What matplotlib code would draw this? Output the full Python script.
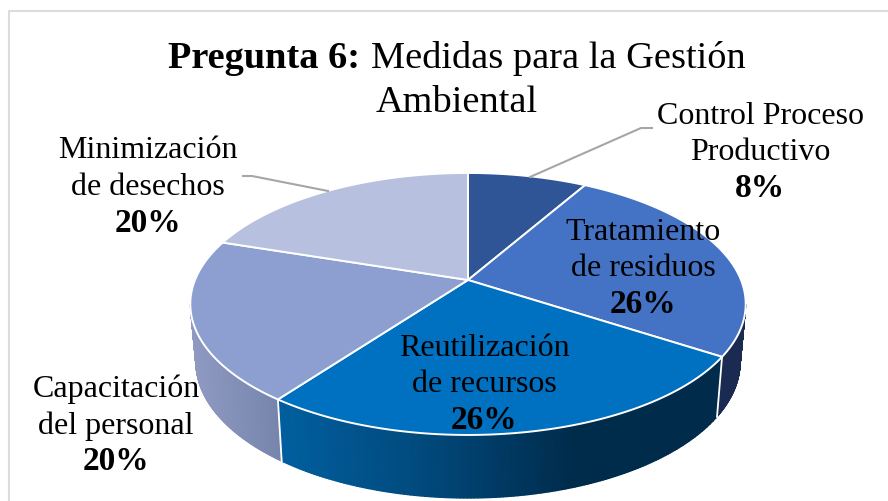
import matplotlib.pyplot as plt
from matplotlib.colors import LinearSegmentedColormap
import numpy as np

plt.rcParams['font.family'] = ['Liberation Serif', 'DejaVu Serif']

categories = ["Control Proceso\nProductivo", "Tratamiento\nde residuos", "Reutilización\nde recursos",
              "Capacitación\ndel personal", "Minimización\nde desechos"]
# first slice reads a bit above its rounded 8% label
values = [8.3, 26, 26, 20, 20]
top_colors = ["#2f5597", "#4472c4", "#0070c0", "#8d9ed0", "#b7c1df"]
side_colors = [["#2f5597", "#2f5597"],
               ["#1b2a50", "#1b2a50"],
               ["#015f9f", "#01497c", "#002c4c", "#002b4a"],
               ["#8f9ac2", "#7785ad"],
               ["#b7c1df", "#b7c1df"]]

# pie geometry in pixels of the picture
hub_x, hub_y = 468, 280
rx, ry, persp = 273, 126.6, 0.183


def project(theta):
    w = 1 + persp * np.cos(theta)
    return hub_x + rx * np.sin(theta) / w, hub_y - ry * np.cos(theta) / w


def lower(x, y):
    return hub_x + (x - hub_x) * 0.98, hub_y + (y - hub_y) * 1.04 + 57


fig = plt.figure(figsize=(8.88, 5.01), dpi=100)
ax = fig.add_axes([0, 0, 1, 1])
ax.set_xlim(0, 888)
ax.set_ylim(501, 0)
ax.axis('off')

# chart frame, only the left and top edges are in the crop
ax.plot([9, 9, 888], [501, 11, 11], color="#dcdcdc", lw=1.5)

edges = np.cumsum([0] + values) / sum(values) * 2 * np.pi
vis_start, vis_end = np.radians(100.5), np.radians(259.5)

# side wall first, so the top sits over it
for i in range(len(values)):
    a, b = max(edges[i], vis_start), min(edges[i + 1], vis_end)
    if a >= b:
        continue
    th = np.linspace(a, b, 150)
    xs, ys = project(th)
    xl, yl = lower(xs, ys)
    cmap = LinearSegmentedColormap.from_list(f"side{i}", side_colors[i])
    t = (xs - xs.min()) / (xs.max() - xs.min())
    ax.pcolormesh(np.vstack([xs, xl]), np.vstack([ys, yl]), np.vstack([t, t]),
                  cmap=cmap, vmin=0, vmax=1, shading='gouraud', zorder=2)
    # white seam at the slice start
    if edges[i] >= vis_start:
        ax.plot([xs[0], xl[0]], [ys[0], yl[0]], color="white", lw=1.3, zorder=3)

# top face
for i in range(len(values)):
    th = np.linspace(edges[i], edges[i + 1], 200)
    xs, ys = project(th)
    ax.fill(np.r_[hub_x, xs], np.r_[hub_y, ys], facecolor=top_colors[i], edgecolor="white",
            lw=1.4, joinstyle='round', zorder=4)

# leader lines
ax.plot([530, 641, 652], [177, 128, 128], color="#a6a6a6", lw=1.5, zorder=5)
ax.plot([328, 252, 243], [191, 176, 176], color="#a6a6a6", lw=1.5, zorder=5)

# title
title_size = 27.6
ax.text(360, 68, "Pregunta 6:", ha='right', va='baseline', fontsize=title_size, fontweight='bold', zorder=6)
ax.text(371, 68, "Medidas para la Gestión", ha='left', va='baseline', fontsize=title_size, zorder=6)
ax.text(457, 112, "Ambiental", ha='center', va='baseline', fontsize=title_size, zorder=6)

# labels: center x and the baseline of the first line
label_pos = [(760, 123.5), (643, 239.5), (484, 355.5), (116, 397), (148, 158.5)]
line_gap = 36.7
for cat, val, (lx, ly) in zip(categories, values, label_pos):
    lines = cat.split("\n")
    for k, line in enumerate(lines):
        ax.text(lx, ly + k * line_gap, line, ha='center', va='baseline', fontsize=23, zorder=6)
    ax.text(lx, ly + 2 * line_gap, f"{val:.0f}%", ha='center', va='baseline', fontsize=24,
            fontweight='bold', zorder=6)

fig.savefig("out.png", dpi=100)
plt.close(fig)
